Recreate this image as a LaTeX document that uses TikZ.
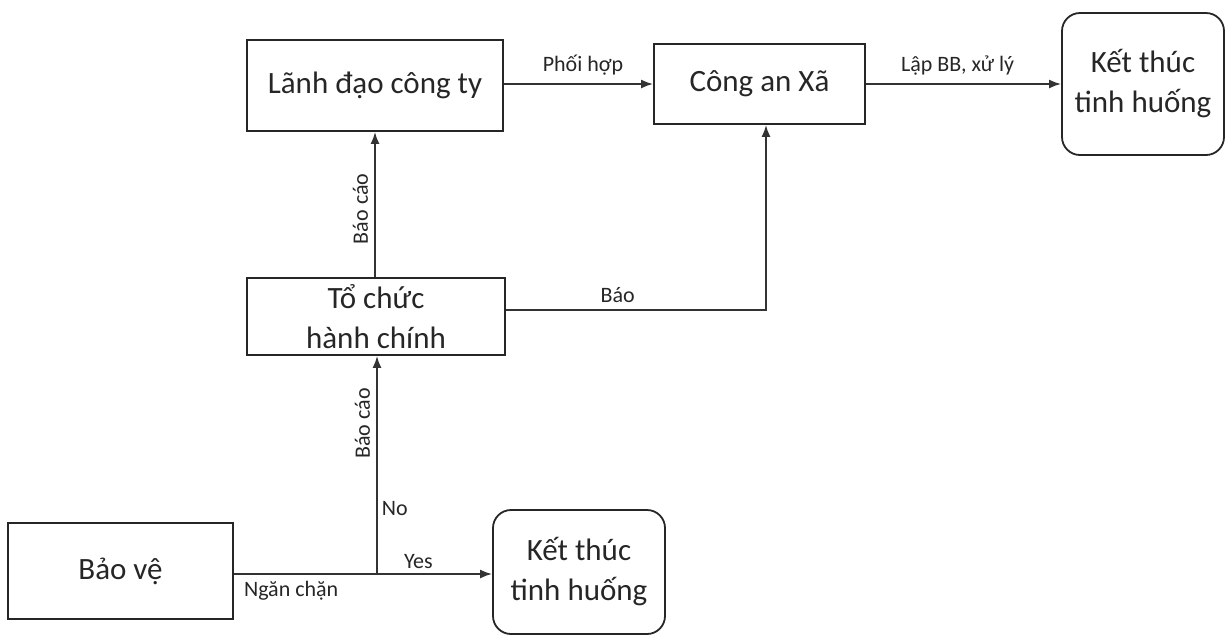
\documentclass[tikz,border=0pt]{standalone}
\usepackage{fontspec}
\setmainfont{Carlito}
\usetikzlibrary{arrows.meta}
\begin{document}
\begin{tikzpicture}[x=0.5pt,y=-0.5pt,
  box/.style={draw=black!85,line width=0.9pt,rectangle,font=\fontsize{15.5}{20}\selectfont,align=center,inner sep=0pt,text=black!85},
  endbox/.style={box,rounded corners=9pt},
  conn/.style={draw=black!80,line width=0.9pt},
  arr/.style={conn,-{Latex[length=6pt,width=4.5pt]}},
  lbl/.style={font=\fontsize{11}{13}\selectfont,text=black!85,inner sep=1pt}]
\useasboundingbox (0,0) rectangle (1226,639);
\node[box,minimum width=128pt,minimum height=45.5pt] (lanh) at (375,85.5) {Lãnh đạo công ty};
\node[box,minimum width=105.5pt,minimum height=40pt] (ca) at (759.5,84) {Công an Xã};
\node[endbox,minimum width=81pt,minimum height=71pt] (kt1) at (1143,84) {Kết thúc\\tinh huống};
\node[box,minimum width=129pt,minimum height=38.5pt] (tc) at (376,316.5) {Tổ chức\\hành chính};
\node[box,minimum width=112.5pt,minimum height=48pt] (bv) at (120.5,571) {Bảo vệ};
\node[endbox,minimum width=86pt,minimum height=62pt] (kt2) at (579,572) {Kết thúc\\tinh huống};
\coordinate (split) at (377,574);
\coordinate (corner) at (766,310);
% connectors
\draw[arr] (lanh.east |- 0,84) -- node[lbl,above=3pt,pos=0.53] {Phối hợp} (ca.west |- 0,84);
\draw[arr] (ca.east |- 0,84) -- node[lbl,above=3pt,pos=0.47] {Lập BB, xử lý} (kt1.west |- 0,84);
\draw[arr] (tc.north -| 375,0) -- node[lbl,rotate=90,above=2pt,pos=0.47] {Báo cáo} (lanh.south -| 375,0);
\draw[arr] (tc.east |- corner) -- node[lbl,above=2pt,pos=0.43] {Báo} (corner) -- (ca.south -| corner);
\draw[conn] (bv.east |- split) -- node[lbl,below=2pt,pos=0.4] {Ngăn chặn} (split);
\draw[arr] (split) -- node[lbl,above=1pt,pos=0.36] {Yes} (kt2.west |- split);
\draw[arr] (split) -- node[lbl,right=1pt,pos=0.3] {No} node[lbl,rotate=90,above=2pt,pos=0.69] {Báo cáo} (tc.south -| split);
\end{tikzpicture}
\end{document}
